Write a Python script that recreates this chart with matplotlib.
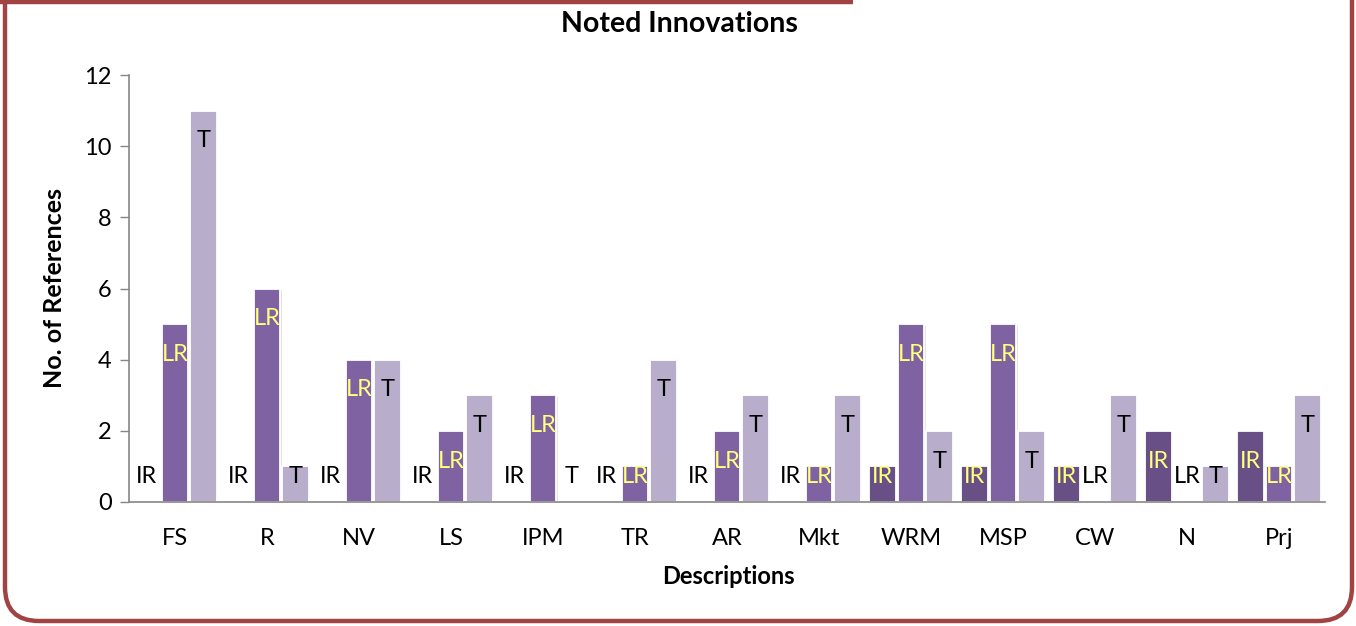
import numpy as np
import matplotlib.pyplot as plt
import matplotlib.patheffects as pe
from matplotlib.patches import FancyBboxPatch

plt.rcParams['font.family'] = ['Lato', 'DejaVu Sans']

categories = ['FS', 'R', 'NV', 'LS', 'IPM', 'TR', 'AR', 'Mkt', 'WRM', 'MSP', 'CW', 'N', 'Prj']
series_names = ['IR', 'LR', 'T']
ir_values = [0, 0, 0, 0, 0, 0, 0, 0, 1, 1, 1, 2, 2]
lr_values = [5, 6, 4, 2, 3, 1, 2, 1, 5, 5, 0, 0, 1]
t_values = [11, 1, 4, 3, 0, 4, 3, 3, 2, 2, 3, 1, 3]

colors = ['#684f86', '#7f62a1', '#b8aecb']
label_colors = ['#ffff80', '#ffff80', '#000000']

W, H = 1356, 626
fig = plt.figure(figsize=(W / 100, H / 100), dpi=100)

# frame around the chart, drawn in pixel coordinates
bg = fig.add_axes([0, 0, 1, 1], zorder=-1)
bg.set_xlim(0, W)
bg.set_ylim(H, 0)
bg.axis('off')
bg.add_patch(FancyBboxPatch((5, -60), W - 9, H - 2 + 60 - 3,
                            boxstyle='round,pad=0,rounding_size=34',
                            fc='none', ec='#a24343', lw=3.2))
bg.plot([0, 853], [1.5, 1.5], color='#a24343', lw=3.2, solid_capstyle='butt')

ax = fig.add_axes([129 / W, 1 - 502 / H, (1325 - 129) / W, (502 - 75) / H])

x = np.arange(len(categories))
width = 0.285
step = 0.31
shadow = [pe.SimplePatchShadow(offset=(1.2, -1.2), shadow_rgbFace='0.78', alpha=0.45), pe.Normal()]

for i, (name, vals) in enumerate(zip(series_names, [ir_values, lr_values, t_values])):
    pos = x + (i - 1) * step
    bars = ax.bar(pos, vals, width, color=colors[i], edgecolor='white', linewidth=1.3, zorder=2)
    for b in bars:
        b.set_path_effects(shadow)
    for px, v in zip(pos, vals):
        ly = max(v - 0.85, 0.72)
        c = label_colors[i] if v > 0 else '#000000'
        ax.text(px, ly, name, ha='center', va='center', fontsize=17, color=c, zorder=3)

ax.set_xlim(-0.5, len(categories) - 0.5)
ax.set_ylim(0, 12)
ax.set_yticks(range(0, 13, 2))
ax.set_xticks(x)
ax.set_xticklabels(categories)
ax.tick_params(axis='y', length=6.5, width=1, color='#868686', pad=6, labelsize=17)
ax.tick_params(axis='x', length=0, pad=19, labelsize=17)
for s in ['top', 'right']:
    ax.spines[s].set_visible(False)
for s in ['left', 'bottom']:
    ax.spines[s].set_color('#868686')
    ax.spines[s].set_linewidth(1.2)

fig.text(679 / W, 1 - 24 / H, 'Noted Innovations', ha='center', va='center',
         fontsize=20.5, fontweight='bold')
fig.text(728 / W, 1 - 577 / H, 'Descriptions', ha='center', va='center',
         fontsize=17, fontweight='bold')
fig.text(55 / W, 1 - 288 / H, 'No. of References', ha='center', va='center',
         rotation=90, fontsize=18, fontweight='bold')

fig.savefig('out.png', dpi=100)
